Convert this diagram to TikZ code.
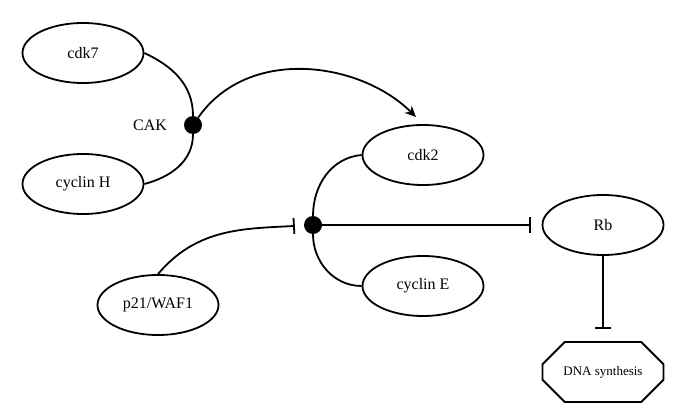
\documentclass[tikz,border=0pt]{standalone}
\usepackage{fontspec}
\setmainfont{Liberation Serif}
\usetikzlibrary{positioning,arrows.meta,shapes.geometric,shapes.misc}
\tikzset{
    on grid,
    auto,
    protein/.style = {
        draw,
        shape=ellipse,
        minimum width=121pt,
        minimum height=60pt,
        line width=1.8pt,
        font=\fontsize{16}{19}\selectfont
    },
    complex/.style = {
        shape=circle,
        fill=black,
        minimum size=18pt,
        inner sep=0pt
    },
    process/.style = {
        draw,
        shape=chamfered rectangle,
        chamfered rectangle xsep=13pt,
        chamfered rectangle ysep=13pt,
        minimum width=121pt,
        minimum height=60pt,
        line width=1.8pt,
        font=\fontsize{13}{16}\selectfont
    },
    tag/.style = {
        shape=rectangle,
        font=\fontsize{16}{19}\selectfont
    },
    link/.style = {
        line width=1.8pt
    },
    inhibit/.style = {
        line width=1.8pt,
        -{Bar[width=16pt]}
    },
    >={Stealth[length=11pt,width=10pt]},
}

\begin{document}
\begin{tikzpicture}
        \useasboundingbox (0,0) rectangle (687pt,-414pt);

        \node[complex] (cdk2e) at (313pt,-225pt) {};
        \node[protein, above right=70pt and 110pt of cdk2e] (cdk2) {cdk2};
        \node[protein, below right=61pt and 110pt of cdk2e] (cycline) {cyclin E};
        \node[protein, right=290pt of cdk2e] (rb) {Rb};
        \node[process, below=147pt of rb] (dna) {DNA synthesis};
        \node[protein, below left=80pt and 155pt of cdk2e] (p21) {p21/WAF1};
        \node[complex, above left=100pt and 120pt of cdk2e] (cak) {};
        \node[tag, left=43pt of cak] (caklabel) {CAK};
        \node[protein, above left=72pt and 110pt of cak] (cdk7) {cdk7};
        \node[protein, below left=59pt and 110pt of cak] (cyclinh) {cyclin H};

        \path[draw, link] (cdk7.east) to[out=-25, in=90] (cak);
        \path[draw, link] (cak) to[out=-90, in=15] (cyclinh.east);
        \path[draw, link, ->, shorten >=10pt] (cak) to[out=55, in=135] (cdk2.north);

        \path[draw, link] (cdk2e) to[out=90, in=185] (cdk2.west);
        \path[draw, link] (cdk2e) to[out=-90, in=180] (cycline.west);
        \path[draw, inhibit, shorten >=11pt] (cdk2e) -- (rb.west);
        \path[draw, inhibit, shorten >=9pt] (p21.north) to[out=50, in=183] (cdk2e);
        \path[draw, inhibit, shorten >=12pt] (rb.south) -- (dna.north);
    \end{tikzpicture}
\end{document}
